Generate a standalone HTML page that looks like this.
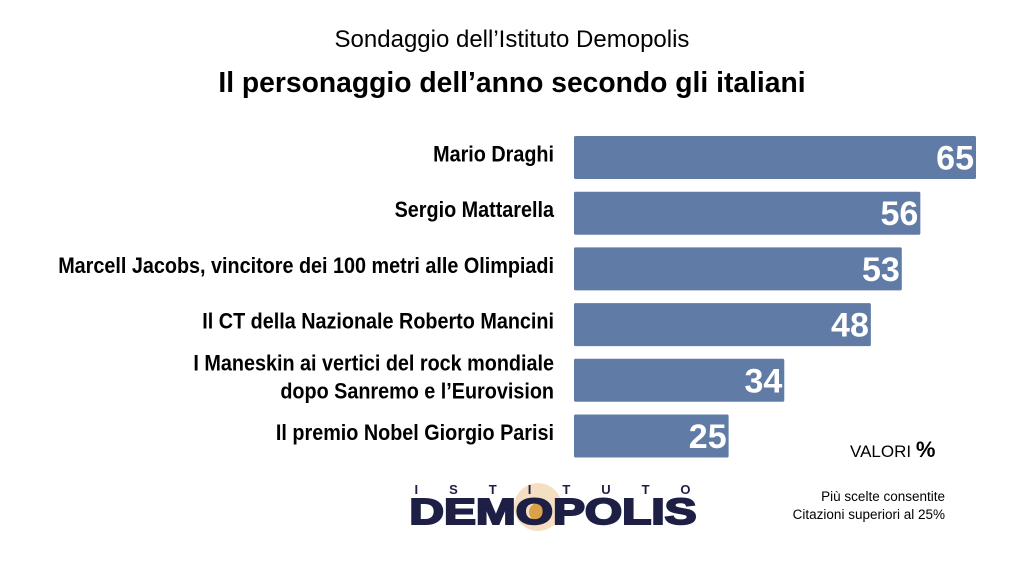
<!DOCTYPE html>
<html><head><meta charset="utf-8">
<style>
body{margin:0;width:1024px;height:576px;background:#fff;overflow:hidden;font-family:"Liberation Sans",sans-serif;}
</style></head>
<body>
<svg width="1024" height="576" xmlns="http://www.w3.org/2000/svg">
<text x="512" y="47" text-anchor="middle" font-size="24" fill="#000" transform="translate(512 0) scale(1.0 1) translate(-512 0)">Sondaggio dell’Istituto Demopolis</text>
<text x="512" y="92" text-anchor="middle" font-size="29" font-weight="bold" fill="#000" transform="translate(512 0) scale(0.975 1) translate(-512 0)">Il personaggio dell’anno secondo gli italiani</text>
<g id="bars"></g>
<text x="850" y="457" font-size="17" fill="#000">VALORI <tspan font-size="22" font-weight="bold">%</tspan></text>
<g>
<circle cx="538" cy="507" r="24" fill="#e8b878" opacity="0.45"/>
<circle cx="538" cy="512" r="9" fill="#d9a24a"/>
<text x="553" y="494" text-anchor="middle" font-size="13" font-weight="bold" fill="#1e1f45" letter-spacing="31" transform="translate(15 0)">ISTITUTO</text>
<text x="553" y="524" text-anchor="middle" font-size="36" font-weight="900" fill="#1e1f45" stroke="#1e1f45" stroke-width="2" transform="translate(553 0) scale(1.33 1) translate(-553 0)">DEMOPOLIS</text>
</g>
<text x="945" y="501" text-anchor="end" font-size="13.5" fill="#000">Più scelte consentite</text>
<text x="945" y="519" text-anchor="end" font-size="13.5" fill="#000">Citazioni superiori al 25%</text>
</svg>
<script>
const categories=[["Mario Draghi"],["Sergio Mattarella"],["Marcell Jacobs, vincitore dei 100 metri alle Olimpiadi"],["Il CT della Nazionale Roberto Mancini"],["I Maneskin ai vertici del rock mondiale","dopo Sanremo e l’Eurovision"],["Il premio Nobel Giorgio Parisi"]];
const values=[65,56,53,48,34,25];
const x0=574, pxPer=402/65, yTop=136, pitch=55.7, bh=43;
const xs=v=>x0+v*pxPer;
const ys=i=>yTop+i*pitch;
const NS="http://www.w3.org/2000/svg";
const g=document.getElementById('bars');
values.forEach((v,i)=>{
  const r=document.createElementNS(NS,'rect');
  r.setAttribute('x',x0);r.setAttribute('y',ys(i));
  r.setAttribute('width',xs(v)-x0);r.setAttribute('height',bh);
  r.setAttribute('fill','#607ca6');r.setAttribute('rx','1.5');
  
  
  g.appendChild(r);
  const t=document.createElementNS(NS,'text');
  t.setAttribute('x',xs(v)-2);t.setAttribute('y',ys(i)+bh/2+12);
  t.setAttribute('text-anchor','end');t.setAttribute('font-size','34');
  t.setAttribute('font-weight','bold');t.setAttribute('fill','#fff');
  t.textContent=v;
  
  
  g.appendChild(t);
  const lines=categories[i];
  lines.forEach((s,j)=>{
    const l=document.createElementNS(NS,'text');
    const cy=ys(i)+bh/2+4+(j-(lines.length-1)/2)*28;
    l.setAttribute('x',554);l.setAttribute('y',cy);
    l.setAttribute('text-anchor','end');l.setAttribute('font-size','22');
    l.setAttribute('font-weight','bold');
    l.setAttribute('transform','translate(554 0) scale(0.9 1) translate(-554 0)');
    l.setAttribute('fill','#000');
    l.textContent=s;
    
    
    g.appendChild(l);
  });
});
</script>
</body></html>
